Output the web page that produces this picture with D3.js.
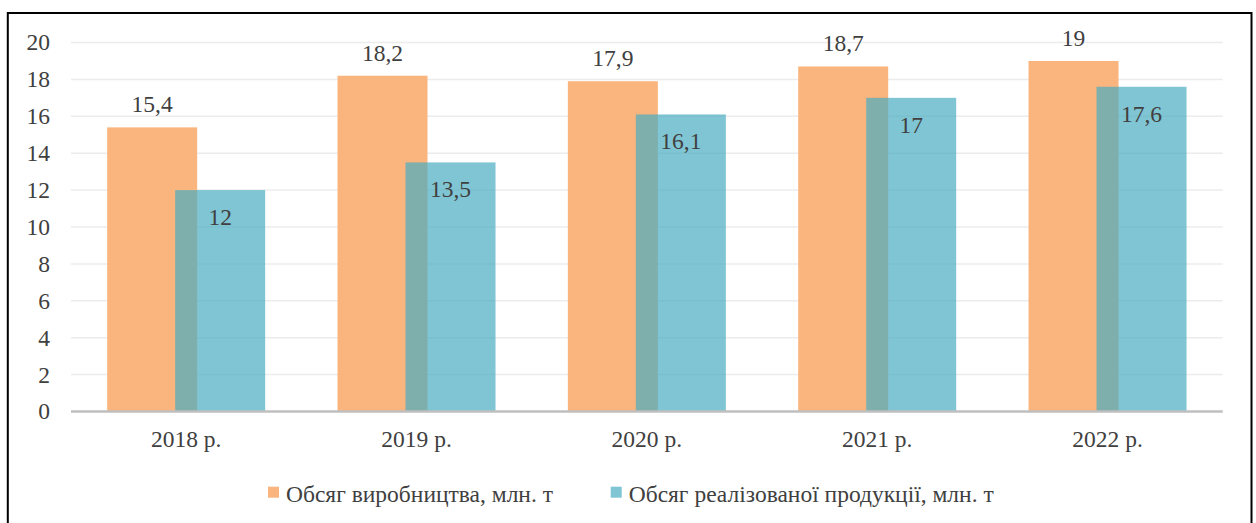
<!DOCTYPE html>
<html>
<head>
<meta charset="utf-8">
<script src="https://cdn.jsdelivr.net/npm/d3@7"></script>
<style>
  body { margin: 0; background: #fff; }
</style>
</head>
<body>
<div class="chart"></div>
<script>
const years = ["2018 р.", "2019 р.", "2020 р.", "2021 р.", "2022 р."];
const production = [15.4, 18.2, 17.9, 18.7, 19];
const sold = [12, 13.5, 16.1, 17, 17.6];
const seriesNames = ["Обсяг виробництва, млн. т", "Обсяг реалізованої продукції, млн. т"];
const yTicks = [0, 2, 4, 6, 8, 10, 12, 14, 16, 18, 20];

const W = 1256, H = 523;
const plotLeft = 71, plotRight = 1222.7, plotTop = 42.5, plotBottom = 411.5;
const barW = 90, shift = 34;
const fontFam = "'Liberation Serif', 'Times New Roman', serif";
const fs = "23.5px";

const svg = d3.select(".chart").append("svg")
    .attr("width", W)
    .attr("height", H)
    .style("font-family", fontFam);

// outer frame
svg.append("rect")
    .attr("x", 7.8).attr("y", 13)
    .attr("width", 1243.7).attr("height", 530)
    .attr("fill", "none")
    .attr("stroke", "#000")
    .attr("stroke-width", 2);

const x = d3.scaleBand().domain(years).range([plotLeft, plotRight]);
const y = d3.scaleLinear().domain([0, 20]).range([plotBottom, plotTop]);

// gridlines
svg.append("g").selectAll("line")
    .data(yTicks.filter(d => d > 0))
    .enter().append("line")
    .attr("x1", plotLeft).attr("x2", plotRight)
    .attr("y1", d => y(d)).attr("y2", d => y(d))
    .attr("stroke", "#ececec")
    .attr("stroke-width", 1.5);

function label(sel) {
  return sel.attr("font-family", fontFam)
    .attr("font-size", fs)
    .attr("fill", "#404040");
}

// y tick labels
svg.append("g").selectAll("text")
    .data(yTicks)
    .enter().append("text")
    .call(label)
    .attr("x", 50)
    .attr("y", d => y(d))
    .attr("dy", "0.34em")
    .attr("text-anchor", "end")
    .text(d => d);

const cx = d => x(d) + x.bandwidth() / 2;

// production bars
svg.append("g").selectAll("rect")
    .data(years)
    .enter().append("rect")
    .attr("x", d => cx(d) - shift - barW / 2)
    .attr("y", (d, i) => y(production[i]))
    .attr("width", barW)
    .attr("height", (d, i) => plotBottom - y(production[i]))
    .attr("fill", "#f9b57d");

// sold bars (semi transparent, overlap)
svg.append("g").selectAll("rect")
    .data(years)
    .enter().append("rect")
    .attr("x", d => cx(d) + shift - barW / 2)
    .attr("y", (d, i) => y(sold[i]))
    .attr("width", barW)
    .attr("height", (d, i) => plotBottom - y(sold[i]))
    .attr("fill", "#4aacc2")
    .attr("fill-opacity", 0.7);

// baseline
svg.append("line")
    .attr("x1", plotLeft).attr("x2", plotRight)
    .attr("y1", plotBottom).attr("y2", plotBottom)
    .attr("stroke", "#bfbfbf")
    .attr("stroke-width", 2.5);

const fmt = v => String(v).replace(".", ",");

// value labels
svg.append("g").selectAll("text")
    .data(years)
    .enter().append("text")
    .call(label)
    .attr("x", d => cx(d) - shift)
    .attr("y", (d, i) => y(production[i]) - 15)
    .attr("text-anchor", "middle")
    .text((d, i) => fmt(production[i]));

svg.append("g").selectAll("text")
    .data(years)
    .enter().append("text")
    .call(label)
    .attr("x", d => cx(d) + shift)
    .attr("y", (d, i) => y(sold[i]) + 35)
    .attr("text-anchor", "middle")
    .text((d, i) => fmt(sold[i]));

// x labels
svg.append("g").selectAll("text")
    .data(years)
    .enter().append("text")
    .call(label)
    .attr("x", d => cx(d))
    .attr("y", 447)
    .attr("text-anchor", "middle")
    .text(d => d);

// legend
const legendX = [268, 610.7];
const legendColors = ["#f9b57d", "#80c5d4"];
const lg = svg.append("g").selectAll("g")
    .data(seriesNames)
    .enter().append("g")
    .attr("transform", (d, i) => `translate(${legendX[i]},0)`);
lg.append("rect")
    .attr("x", 0).attr("y", 486.7)
    .attr("width", 11).attr("height", 11)
    .attr("fill", (d, i) => legendColors[i]);
lg.append("text")
    .call(label)
    .attr("x", 18)
    .attr("y", 501.5)
    .text(d => d);
</script>
</body>
</html>
